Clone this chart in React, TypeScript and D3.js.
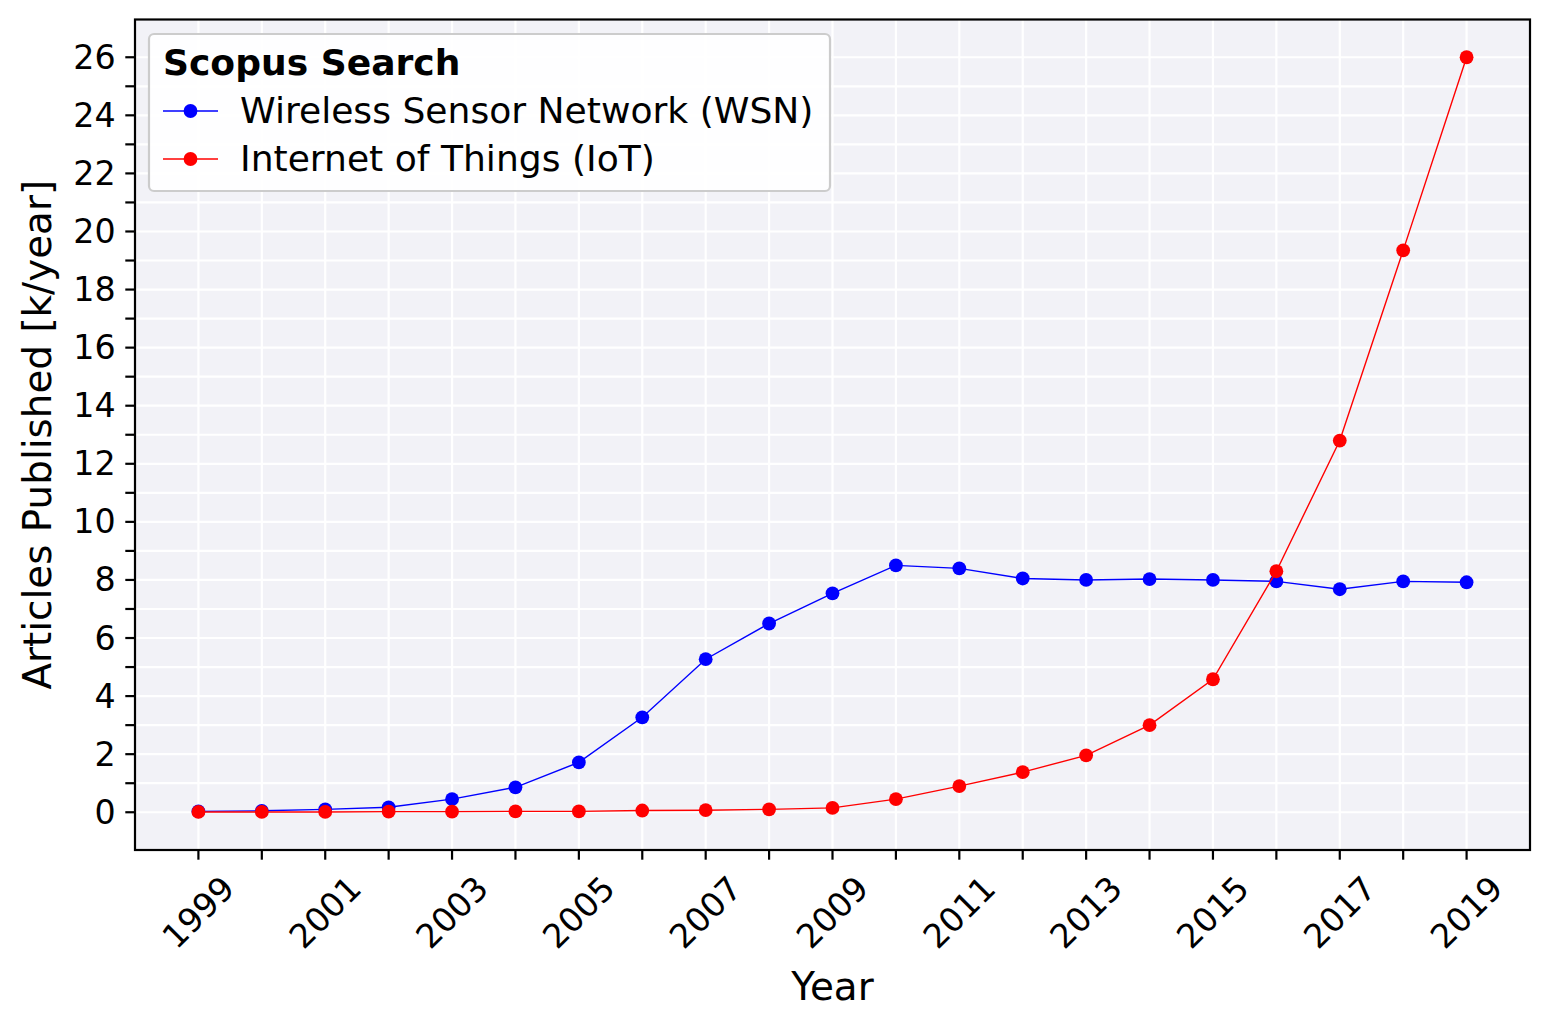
import React from "react";
import * as d3 from "d3";

const years = [1999, 2000, 2001, 2002, 2003, 2004, 2005, 2006, 2007, 2008, 2009, 2010, 2011, 2012, 2013, 2014, 2015, 2016, 2017, 2018, 2019];
const wsn = [0.03, 0.05, 0.1, 0.17, 0.45, 0.86, 1.72, 3.27, 5.27, 6.5, 7.54, 8.5, 8.4, 8.05, 8.0, 8.03, 8.0, 7.95, 7.68, 7.95, 7.92];
const iot = [0.01, 0.01, 0.01, 0.02, 0.02, 0.03, 0.03, 0.06, 0.07, 0.1, 0.15, 0.45, 0.9, 1.38, 1.96, 3.0, 4.58, 8.3, 12.8, 19.35, 26.0];
const yTickLabels = [0, 2, 4, 6, 8, 10, 12, 14, 16, 18, 20, 22, 24, 26];
const xTickLabelYears = [1999, 2001, 2003, 2005, 2007, 2009, 2011, 2013, 2015, 2017, 2019];
const seriesNames = ["Wireless Sensor Network (WSN)", "Internet of Things (IoT)"];
const legendTitle = "Scopus Search";

const W = 1549, H = 1028;
const L = 135, R = 1530, T = 19.5, B = 850;
const FONT = "'DejaVu Sans', sans-serif";

export default function App() {
  const x = d3.scaleLinear().domain([1998, 2020]).range([L, R]);
  const y = d3.scaleLinear().domain([-1.3, 27.3]).range([B, T]);
  const line = d3.line<number>().x((_, i) => x(years[i])).y((d) => y(d));
  const yTicks = d3.range(0, 27);
  const series = [
    { name: seriesNames[0], data: wsn, color: "#0000ff" },
    { name: seriesNames[1], data: iot, color: "#ff0000" },
  ];
  const tickLen = 9.7;
  const xLabelCenterY = B + tickLen + 9.7 + 43;
  return (
    <svg width={W} height={H} style={{ position: "absolute", left: 0, top: 0 }} fontFamily={FONT}>
      <rect x={0} y={0} width={W} height={H} fill="#ffffff" />
      <rect x={L} y={T} width={R - L} height={B - T} fill="#f2f2f7" />
      <g stroke="#ffffff" strokeWidth={2.2}>
        {yTicks.map((t) => (
          <line key={"gy" + t} x1={L} x2={R} y1={y(t)} y2={y(t)} />
        ))}
        {years.map((yr) => (
          <line key={"gx" + yr} x1={x(yr)} x2={x(yr)} y1={T} y2={B} />
        ))}
      </g>
      {series.map((s) => (
        <g key={s.name}>
          <path d={line(s.data) || ""} fill="none" stroke={s.color} strokeWidth={1.4} />
          {s.data.map((v, i) => (
            <circle key={i} cx={x(years[i])} cy={y(v)} r={6.9} fill={s.color} />
          ))}
        </g>
      ))}
      <rect x={L} y={T} width={R - L} height={B - T} fill="none" stroke="#000" strokeWidth={2.2} />
      {/* y ticks */}
      <g stroke="#000" strokeWidth={2.2}>
        {yTicks.map((t) => (
          <line key={"ty" + t} x1={L - tickLen} x2={L} y1={y(t)} y2={y(t)} />
        ))}
        {years.map((yr) => (
          <line key={"tx" + yr} x1={x(yr)} x2={x(yr)} y1={B} y2={B + tickLen} />
        ))}
      </g>
      {yTickLabels.map((t) => (
        <text key={"ly" + t} x={L - tickLen - 9.7} y={y(t)} textAnchor="end" dominantBaseline="central" fontSize={33.3} fill="#000">
          {t}
        </text>
      ))}
      {xTickLabelYears.map((yr) => (
        <text
          key={"lx" + yr}
          transform={`translate(${x(yr)},${xLabelCenterY}) rotate(-45)`}
          textAnchor="middle"
          dominantBaseline="central"
          fontSize={33.3}
          fill="#000"
        >
          {yr}
        </text>
      ))}
      <text x={(L + R) / 2} y={1000} textAnchor="middle" fontSize={38.9} fill="#000">Year</text>
      <text transform={`translate(37,${(T + B) / 2}) rotate(-90)`} textAnchor="middle" dominantBaseline="central" fontSize={38.9} fill="#000">
        Articles Published [k/year]
      </text>
      {/* legend */}
      <g>
        <rect x={149} y={34} width={681} height={157} rx={5} fill="#ffffff" fillOpacity={0.9} stroke="#cccccc" strokeWidth={2.2} />
        <text x={163} y={75} fontSize={36.1} fontWeight="bold" fill="#000">{legendTitle}</text>
        {series.map((s, i) => {
          const cy = 111 + i * 48;
          return (
            <g key={"lg" + i}>
              <line x1={163} x2={218} y1={cy} y2={cy} stroke={s.color} strokeWidth={1.4} />
              <circle cx={190.5} cy={cy} r={6.9} fill={s.color} />
              <text x={240} y={cy} dominantBaseline="central" fontSize={36.1} fill="#000">{s.name}</text>
            </g>
          );
        })}
      </g>
    </svg>
  );
}
